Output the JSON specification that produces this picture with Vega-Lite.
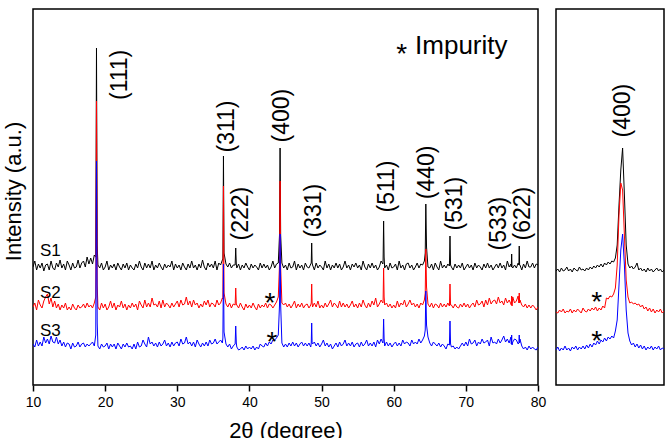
{
"$schema": "https://vega.github.io/schema/vega-lite/v6.json",
"padding": {"left": 1, "top": 8, "right": 4, "bottom": 0},
"background": "white",
"bounds": "flush",
"spacing": 18,
"config": {"font": "Liberation Sans", "view": {"stroke": "black", "strokeWidth": 1.5}},
"datasets": {
"main": [
{"x":10,"S1":118,"S2":78,"S3":41},{"x":10.25,"S1":124,"S2":82,"S3":38},{"x":10.5,"S1":115,"S2":75,"S3":45},{"x":10.75,"S1":121,"S2":85,"S3":39},
{"x":11,"S1":117,"S2":80,"S3":43},{"x":11.25,"S1":122,"S2":77,"S3":39},{"x":11.5,"S1":114,"S2":84,"S3":48},{"x":11.75,"S1":120,"S2":88,"S3":42},
{"x":12,"S1":121,"S2":91,"S3":46},{"x":12.25,"S1":115,"S2":81,"S3":41},{"x":12.5,"S1":124,"S2":87,"S3":49},{"x":12.75,"S1":117,"S2":78,"S3":43},
{"x":13,"S1":115,"S2":84,"S3":42},{"x":13.25,"S1":122,"S2":77,"S3":48},{"x":13.5,"S1":118,"S2":81,"S3":41},{"x":13.75,"S1":125,"S2":75,"S3":45},
{"x":14,"S1":117,"S2":80,"S3":39},{"x":14.25,"S1":121,"S2":77,"S3":43},{"x":14.5,"S1":115,"S2":82,"S3":38},{"x":14.75,"S1":124,"S2":75,"S3":42},
{"x":15,"S1":120,"S2":78,"S3":41},{"x":15.25,"S1":115,"S2":75,"S3":36},{"x":15.5,"S1":122,"S2":81,"S3":42},{"x":15.75,"S1":117,"S2":77,"S3":38},
{"x":16,"S1":118,"S2":75,"S3":39},{"x":16.25,"S1":125,"S2":80,"S3":43},{"x":16.5,"S1":117,"S2":77,"S3":38},{"x":16.75,"S1":122,"S2":78,"S3":41},
{"x":17,"S1":124,"S2":81,"S3":42},{"x":17.25,"S1":118,"S2":77,"S3":38},{"x":17.5,"S1":128,"S2":82,"S3":41},{"x":17.75,"S1":121,"S2":78,"S3":39},
{"x":18,"S1":127,"S2":80,"S3":41},{"x":18.25,"S1":121,"S2":77,"S3":43},{"x":18.5,"S1":130,"S2":82,"S3":39},
{"x":18.7,"S1":128,"S2":88,"S3":50},{"x":18.8,"S1":337,"S2":284,"S3":224},{"x":18.9,"S1":140,"S2":100,"S3":62},
{"x":19,"S1":120,"S2":78,"S3":39},{"x":19.25,"S1":117,"S2":75,"S3":36},{"x":19.5,"S1":122,"S2":82,"S3":41},{"x":19.75,"S1":115,"S2":77,"S3":38},
{"x":20,"S1":118,"S2":81,"S3":39},{"x":20.25,"S1":124,"S2":75,"S3":42},{"x":20.5,"S1":115,"S2":78,"S3":36},{"x":20.75,"S1":120,"S2":84,"S3":41},
{"x":21,"S1":117,"S2":77,"S3":38},{"x":21.25,"S1":121,"S2":82,"S3":41},{"x":21.5,"S1":115,"S2":75,"S3":36},{"x":21.75,"S1":122,"S2":80,"S3":42},
{"x":22,"S1":118,"S2":78,"S3":39},{"x":22.25,"S1":115,"S2":84,"S3":36},{"x":22.5,"S1":121,"S2":77,"S3":41},{"x":22.75,"S1":117,"S2":81,"S3":38},
{"x":23,"S1":122,"S2":75,"S3":42},{"x":23.25,"S1":115,"S2":80,"S3":38},{"x":23.5,"S1":120,"S2":77,"S3":39},{"x":23.75,"S1":117,"S2":82,"S3":36},
{"x":24,"S1":115,"S2":78,"S3":41},{"x":24.25,"S1":121,"S2":81,"S3":36},{"x":24.5,"S1":117,"S2":75,"S3":43},{"x":24.75,"S1":124,"S2":84,"S3":38},
{"x":25,"S1":118,"S2":80,"S3":39},{"x":25.25,"S1":115,"S2":77,"S3":45},{"x":25.5,"S1":122,"S2":85,"S3":41},{"x":25.75,"S1":117,"S2":78,"S3":38},
{"x":26,"S1":121,"S2":82,"S3":48},{"x":26.25,"S1":117,"S2":78,"S3":41},{"x":26.5,"S1":124,"S2":87,"S3":43},{"x":26.75,"S1":115,"S2":80,"S3":39},
{"x":27,"S1":120,"S2":81,"S3":42},{"x":27.25,"S1":117,"S2":78,"S3":38},{"x":27.5,"S1":122,"S2":84,"S3":43},{"x":27.75,"S1":118,"S2":77,"S3":39},
{"x":28,"S1":115,"S2":85,"S3":41},{"x":28.25,"S1":121,"S2":78,"S3":45},{"x":28.5,"S1":117,"S2":82,"S3":39},{"x":28.75,"S1":120,"S2":80,"S3":42},
{"x":29,"S1":118,"S2":77,"S3":38},{"x":29.25,"S1":124,"S2":82,"S3":43},{"x":29.5,"S1":115,"S2":78,"S3":39},{"x":29.75,"S1":121,"S2":81,"S3":42},
{"x":30,"S1":117,"S2":84,"S3":43},{"x":30.25,"S1":120,"S2":78,"S3":39},{"x":30.5,"S1":115,"S2":85,"S3":46},{"x":30.75,"S1":122,"S2":80,"S3":41},
{"x":31,"S1":118,"S2":81,"S3":42},{"x":31.25,"S1":115,"S2":88,"S3":48},{"x":31.5,"S1":121,"S2":80,"S3":41},{"x":31.75,"S1":117,"S2":84,"S3":43},
{"x":32,"S1":124,"S2":78,"S3":39},{"x":32.25,"S1":117,"S2":85,"S3":43},{"x":32.5,"S1":120,"S2":80,"S3":38},{"x":32.75,"S1":115,"S2":82,"S3":45},
{"x":33,"S1":121,"S2":77,"S3":41},{"x":33.25,"S1":117,"S2":81,"S3":38},{"x":33.5,"S1":125,"S2":78,"S3":42},{"x":33.75,"S1":118,"S2":84,"S3":39},
{"x":34,"S1":115,"S2":80,"S3":43},{"x":34.25,"S1":122,"S2":85,"S3":39},{"x":34.5,"S1":118,"S2":78,"S3":45},{"x":34.75,"S1":121,"S2":82,"S3":41},
{"x":35,"S1":117,"S2":81,"S3":42},{"x":35.25,"S1":124,"S2":78,"S3":46},{"x":35.5,"S1":115,"S2":85,"S3":41},{"x":35.75,"S1":122,"S2":80,"S3":43},
{"x":36,"S1":120,"S2":82,"S3":45},{"x":36.25,"S1":125,"S2":87,"S3":42},
{"x":36.32,"S1":126,"S2":86,"S3":47},{"x":36.4,"S1":229,"S2":199,"S3":121},{"x":36.48,"S1":132,"S2":92,"S3":53},
{"x":36.75,"S1":121,"S2":81,"S3":41},
{"x":37,"S1":118,"S2":78,"S3":38},{"x":37.25,"S1":122,"S2":82,"S3":41},{"x":37.5,"S1":117,"S2":77,"S3":36},{"x":37.75,"S1":120,"S2":81,"S3":39},
{"x":38.02,"S1":120,"S2":80,"S3":41},{"x":38.1,"S1":137,"S2":97,"S3":59},{"x":38.18,"S1":121,"S2":81,"S3":42},
{"x":38.25,"S1":117,"S2":80,"S3":38},{"x":38.5,"S1":121,"S2":77,"S3":35},{"x":38.75,"S1":115,"S2":82,"S3":36},
{"x":39,"S1":120,"S2":78,"S3":38},{"x":39.25,"S1":117,"S2":75,"S3":35},{"x":39.5,"S1":122,"S2":81,"S3":39},{"x":39.75,"S1":118,"S2":77,"S3":36},
{"x":40,"S1":115,"S2":80,"S3":38},{"x":40.25,"S1":121,"S2":77,"S3":36},{"x":40.5,"S1":117,"S2":82,"S3":39},{"x":40.75,"S1":120,"S2":78,"S3":35},
{"x":41,"S1":118,"S2":75,"S3":38},{"x":41.25,"S1":115,"S2":81,"S3":36},{"x":41.5,"S1":122,"S2":77,"S3":41},{"x":41.75,"S1":117,"S2":80,"S3":39},
{"x":42,"S1":121,"S2":78,"S3":38},{"x":42.25,"S1":117,"S2":82,"S3":42},{"x":42.5,"S1":120,"S2":77,"S3":39},{"x":42.75,"S1":115,"S2":81,"S3":43},
{"x":43,"S1":118,"S2":80,"S3":41},{"x":43.25,"S1":124,"S2":77,"S3":45},{"x":43.5,"S1":117,"S2":80,"S3":45},{"x":43.75,"S1":121,"S2":83,"S3":47},
{"x":44,"S1":122,"S2":88,"S3":50},{"x":44.17,"S1":150,"S2":120,"S3":80},{"x":44.25,"S1":237,"S2":204,"S3":151},{"x":44.33,"S1":150,"S2":118,"S3":80},
{"x":44.5,"S1":122,"S2":82,"S3":42},{"x":44.75,"S1":117,"S2":80,"S3":38},
{"x":45,"S1":120,"S2":82,"S3":41},{"x":45.25,"S1":115,"S2":78,"S3":38},{"x":45.5,"S1":122,"S2":81,"S3":42},{"x":45.75,"S1":117,"S2":77,"S3":39},
{"x":46,"S1":118,"S2":80,"S3":43},{"x":46.25,"S1":124,"S2":84,"S3":39},{"x":46.5,"S1":115,"S2":77,"S3":42},{"x":46.75,"S1":121,"S2":81,"S3":38},
{"x":47,"S1":117,"S2":78,"S3":41},{"x":47.25,"S1":120,"S2":82,"S3":43},{"x":47.5,"S1":115,"S2":77,"S3":39},{"x":47.75,"S1":122,"S2":80,"S3":42},
{"x":48,"S1":118,"S2":81,"S3":39},{"x":48.25,"S1":117,"S2":77,"S3":42},{"x":48.5,"S1":121,"S2":80,"S3":38},
{"x":48.57,"S1":122,"S2":82,"S3":42},{"x":48.63,"S1":142,"S2":101,"S3":62},{"x":48.69,"S1":122,"S2":82,"S3":42},
{"x":48.75,"S1":120,"S2":78,"S3":41},
{"x":49,"S1":115,"S2":82,"S3":43},{"x":49.25,"S1":122,"S2":78,"S3":39},{"x":49.5,"S1":117,"S2":84,"S3":42},{"x":49.75,"S1":120,"S2":77,"S3":38},
{"x":50,"S1":118,"S2":80,"S3":41},{"x":50.25,"S1":115,"S2":77,"S3":45},{"x":50.5,"S1":124,"S2":82,"S3":39},{"x":50.75,"S1":117,"S2":78,"S3":42},
{"x":51,"S1":121,"S2":81,"S3":38},{"x":51.25,"S1":115,"S2":85,"S3":41},{"x":51.5,"S1":120,"S2":78,"S3":36},{"x":51.75,"S1":117,"S2":82,"S3":39},
{"x":52,"S1":122,"S2":80,"S3":42},{"x":52.25,"S1":117,"S2":77,"S3":38},{"x":52.5,"S1":121,"S2":84,"S3":43},{"x":52.75,"S1":115,"S2":78,"S3":39},
{"x":53,"S1":118,"S2":82,"S3":41},{"x":53.25,"S1":124,"S2":78,"S3":45},{"x":53.5,"S1":117,"S2":81,"S3":39},{"x":53.75,"S1":120,"S2":77,"S3":42},
{"x":54,"S1":115,"S2":80,"S3":39},{"x":54.25,"S1":121,"S2":84,"S3":43},{"x":54.5,"S1":118,"S2":78,"S3":38},{"x":54.75,"S1":122,"S2":81,"S3":41},
{"x":55,"S1":117,"S2":77,"S3":42},{"x":55.25,"S1":120,"S2":82,"S3":38},{"x":55.5,"S1":115,"S2":78,"S3":43},{"x":55.75,"S1":124,"S2":85,"S3":39},
{"x":56,"S1":118,"S2":80,"S3":41},{"x":56.25,"S1":115,"S2":77,"S3":45},{"x":56.5,"S1":121,"S2":82,"S3":39},{"x":56.75,"S1":117,"S2":78,"S3":42},
{"x":57,"S1":122,"S2":84,"S3":39},{"x":57.25,"S1":117,"S2":80,"S3":43},{"x":57.5,"S1":120,"S2":87,"S3":38},{"x":57.75,"S1":115,"S2":78,"S3":45},
{"x":58,"S1":118,"S2":81,"S3":41},{"x":58.25,"S1":124,"S2":85,"S3":46},{"x":58.5,"S1":121,"S2":82,"S3":42},
{"x":58.53,"S1":125,"S2":84,"S3":44},{"x":58.6,"S1":164,"S2":117,"S3":66},{"x":58.67,"S1":128,"S2":88,"S3":46},
{"x":58.75,"S1":117,"S2":80,"S3":39},
{"x":59,"S1":120,"S2":82,"S3":43},{"x":59.25,"S1":115,"S2":78,"S3":39},{"x":59.5,"S1":122,"S2":81,"S3":42},{"x":59.75,"S1":117,"S2":77,"S3":38},
{"x":60,"S1":118,"S2":80,"S3":41},{"x":60.25,"S1":121,"S2":77,"S3":43},{"x":60.5,"S1":115,"S2":84,"S3":39},{"x":60.75,"S1":124,"S2":78,"S3":42},
{"x":61,"S1":117,"S2":82,"S3":39},{"x":61.25,"S1":120,"S2":80,"S3":45},{"x":61.5,"S1":115,"S2":85,"S3":41},{"x":61.75,"S1":121,"S2":78,"S3":43},
{"x":62,"S1":122,"S2":81,"S3":42},{"x":62.25,"S1":117,"S2":85,"S3":39},{"x":62.5,"S1":120,"S2":80,"S3":45},{"x":62.75,"S1":115,"S2":82,"S3":41},
{"x":63,"S1":118,"S2":78,"S3":43},{"x":63.25,"S1":122,"S2":81,"S3":41},{"x":63.5,"S1":117,"S2":77,"S3":46},{"x":63.75,"S1":121,"S2":82,"S3":42},
{"x":64,"S1":120,"S2":80,"S3":45},{"x":64.25,"S1":124,"S2":85,"S3":49},
{"x":64.37,"S1":132,"S2":92,"S3":55},{"x":64.45,"S1":181,"S2":136,"S3":94},{"x":64.55,"S1":138,"S2":98,"S3":60},
{"x":64.75,"S1":118,"S2":81,"S3":48},
{"x":65,"S1":117,"S2":78,"S3":42},{"x":65.25,"S1":121,"S2":82,"S3":39},{"x":65.5,"S1":115,"S2":77,"S3":43},{"x":65.75,"S1":122,"S2":81,"S3":41},
{"x":66,"S1":118,"S2":80,"S3":39},{"x":66.25,"S1":115,"S2":77,"S3":42},{"x":66.5,"S1":124,"S2":82,"S3":38},{"x":66.75,"S1":117,"S2":78,"S3":41},
{"x":67,"S1":120,"S2":81,"S3":39},{"x":67.25,"S1":117,"S2":78,"S3":36},{"x":67.5,"S1":121,"S2":82,"S3":41},
{"x":67.72,"S1":119,"S2":79,"S3":40},{"x":67.8,"S1":149,"S2":101,"S3":64},{"x":67.88,"S1":120,"S2":80,"S3":41},
{"x":68,"S1":118,"S2":80,"S3":38},{"x":68.25,"S1":115,"S2":77,"S3":39},{"x":68.5,"S1":121,"S2":81,"S3":36},{"x":68.75,"S1":117,"S2":78,"S3":38},
{"x":69,"S1":120,"S2":77,"S3":36},{"x":69.25,"S1":117,"S2":81,"S3":39},{"x":69.5,"S1":122,"S2":78,"S3":42},{"x":69.75,"S1":115,"S2":82,"S3":39},
{"x":70,"S1":118,"S2":78,"S3":43},{"x":70.25,"S1":121,"S2":81,"S3":39},{"x":70.5,"S1":117,"S2":77,"S3":46},{"x":70.75,"S1":120,"S2":80,"S3":41},
{"x":71,"S1":115,"S2":82,"S3":42},{"x":71.25,"S1":122,"S2":78,"S3":45},{"x":71.5,"S1":117,"S2":85,"S3":39},{"x":71.75,"S1":120,"S2":80,"S3":43},
{"x":72,"S1":118,"S2":81,"S3":41},{"x":72.25,"S1":115,"S2":84,"S3":46},{"x":72.5,"S1":121,"S2":78,"S3":42},{"x":72.75,"S1":117,"S2":85,"S3":43},
{"x":73,"S1":122,"S2":80,"S3":45},{"x":73.25,"S1":117,"S2":87,"S3":39},{"x":73.5,"S1":120,"S2":81,"S3":48},{"x":73.75,"S1":115,"S2":84,"S3":42},
{"x":74,"S1":118,"S2":85,"S3":43},{"x":74.25,"S1":121,"S2":81,"S3":41},{"x":74.5,"S1":117,"S2":88,"S3":46},{"x":74.75,"S1":122,"S2":82,"S3":42},
{"x":75,"S1":117,"S2":84,"S3":45},{"x":75.25,"S1":120,"S2":80,"S3":49},{"x":75.5,"S1":115,"S2":87,"S3":43},{"x":75.75,"S1":124,"S2":82,"S3":46},
{"x":76,"S1":118,"S2":85,"S3":42},{"x":76.25,"S1":121,"S2":81,"S3":48},
{"x":76.3,"S1":118,"S2":80,"S3":41},{"x":76.35,"S1":131,"S2":89,"S3":50},{"x":76.4,"S1":118,"S2":79,"S3":40},
{"x":76.5,"S1":117,"S2":88,"S3":43},{"x":76.75,"S1":120,"S2":82,"S3":46},
{"x":77,"S1":117,"S2":84,"S3":45},{"x":77.25,"S1":122,"S2":89,"S3":41},
{"x":77.35,"S1":120,"S2":82,"S3":42},{"x":77.4,"S1":139,"S2":92,"S3":50},{"x":77.45,"S1":120,"S2":82,"S3":42},
{"x":77.5,"S1":120,"S2":85,"S3":46},{"x":77.75,"S1":115,"S2":80,"S3":39},
{"x":78,"S1":121,"S2":78,"S3":36},{"x":78.25,"S1":117,"S2":81,"S3":38},{"x":78.5,"S1":124,"S2":77,"S3":35},{"x":78.75,"S1":118,"S2":80,"S3":39},
{"x":79,"S1":118,"S2":77,"S3":36},{"x":79.25,"S1":122,"S2":80,"S3":38},{"x":79.5,"S1":117,"S2":78,"S3":36},{"x":79.75,"S1":121,"S2":75,"S3":35},
{"x":80,"S1":120,"S2":78,"S3":38}
],
"zoom": [
{"x":42.45,"S1":114,"S2":73,"S3":35},{"x":42.5,"S1":116,"S2":72,"S3":38},{"x":42.55,"S1":113,"S2":75,"S3":34},{"x":42.6,"S1":117,"S2":73,"S3":37},
{"x":42.65,"S1":114,"S2":76,"S3":35},{"x":42.7,"S1":115,"S2":72,"S3":39},{"x":42.75,"S1":118,"S2":74,"S3":35},{"x":42.8,"S1":114,"S2":73,"S3":37},
{"x":42.85,"S1":116,"S2":76,"S3":34},{"x":42.9,"S1":113,"S2":72,"S3":38},{"x":42.95,"S1":117,"S2":75,"S3":36},{"x":43,"S1":115,"S2":73,"S3":39},
{"x":43.05,"S1":114,"S2":76,"S3":35},{"x":43.1,"S1":118,"S2":74,"S3":38},{"x":43.15,"S1":115,"S2":72,"S3":36},{"x":43.2,"S1":116,"S2":77,"S3":39},
{"x":43.25,"S1":114,"S2":74,"S3":36},{"x":43.3,"S1":117,"S2":73,"S3":40},{"x":43.35,"S1":115,"S2":76,"S3":37},{"x":43.4,"S1":118,"S2":74,"S3":41},
{"x":43.45,"S1":116,"S2":77,"S3":38},{"x":43.5,"S1":119,"S2":75,"S3":42},{"x":43.55,"S1":117,"S2":78,"S3":40},{"x":43.6,"S1":120,"S2":74,"S3":44},
{"x":43.65,"S1":118,"S2":77,"S3":41},{"x":43.7,"S1":121,"S2":75,"S3":45},{"x":43.75,"S1":118,"S2":79,"S3":43},{"x":43.8,"S1":122,"S2":77,"S3":47},
{"x":43.85,"S1":120,"S2":87,"S3":44},{"x":43.9,"S1":123,"S2":86,"S3":48},{"x":43.95,"S1":121,"S2":89,"S3":46},{"x":44,"S1":124,"S2":88,"S3":49},
{"x":44.05,"S1":123,"S2":91,"S3":47},{"x":44.1,"S1":127,"S2":97,"S3":54},{"x":44.15,"S1":140,"S2":120,"S3":65},{"x":44.2,"S1":180,"S2":170,"S3":100},
{"x":44.25,"S1":215,"S2":202,"S3":135},{"x":44.3,"S1":237,"S2":195,"S3":151},{"x":44.35,"S1":190,"S2":150,"S3":120},{"x":44.4,"S1":140,"S2":105,"S3":75},
{"x":44.45,"S1":121,"S2":88,"S3":52},{"x":44.5,"S1":117,"S2":82,"S3":44},{"x":44.55,"S1":119,"S2":83,"S3":40},{"x":44.6,"S1":116,"S2":81,"S3":42},
{"x":44.65,"S1":118,"S2":82,"S3":38},{"x":44.7,"S1":122,"S2":80,"S3":41},{"x":44.75,"S1":115,"S2":81,"S3":37},{"x":44.8,"S1":117,"S2":78,"S3":40},
{"x":44.85,"S1":114,"S2":80,"S3":36},{"x":44.9,"S1":116,"S2":76,"S3":39},{"x":44.95,"S1":113,"S2":78,"S3":35},{"x":45,"S1":117,"S2":74,"S3":38},
{"x":45.05,"S1":114,"S2":77,"S3":36},{"x":45.1,"S1":116,"S2":73,"S3":39},{"x":45.15,"S1":113,"S2":76,"S3":35},{"x":45.2,"S1":115,"S2":72,"S3":38},
{"x":45.25,"S1":117,"S2":75,"S3":36},{"x":45.3,"S1":114,"S2":73,"S3":39},{"x":45.35,"S1":116,"S2":76,"S3":35},{"x":45.4,"S1":113,"S2":72,"S3":37},
{"x":45.45,"S1":115,"S2":74,"S3":36}
],
"hkl": [
{"x":22.0,"y":285,"t":"(111)"},{"x":36.85,"y":232.5,"t":"(311)"},{"x":38.8,"y":144.5,"t":"(222)"},{"x":44.58,"y":242.5,"t":"(400)"},
{"x":48.95,"y":147.5,"t":"(331)"},{"x":59.03,"y":172.5,"t":"(511)"},{"x":64.57,"y":185.8,"t":"(440)"},{"x":68.5,"y":154.5,"t":"(531)"},
{"x":74.6,"y":134.5,"t":"(533)"},{"x":77.9,"y":144.5,"t":"(622)"}
],
"samples": [{"x":10.97,"y":129,"t":"S1"},{"x":10.97,"y":87,"t":"S2"},{"x":10.97,"y":49,"t":"S3"}],
"stars": [{"x":42.85,"y":73.5,"t":"*"},{"x":43.13,"y":34.5,"t":"*"},{"x":61.11,"y":322,"t":"*"}],
"legend": [{"x":62.96,"y":330.7,"t":"Impurity"}],
"zoomlabels": [{"x":44.32,"y":247.5,"t":"(400)"}],
"zoomstars": [{"x":43.58,"y":74.5,"t":"*"},{"x":43.58,"y":35,"t":"*"}]
},
"hconcat": [
{
"width": 505, "height": 376,
"layer": [
{"data": {"name": "main"}, "mark": {"type": "line", "color": "black", "strokeWidth": 1, "clip": true},
 "encoding": {
  "x": {"field": "x", "type": "quantitative", "scale": {"domain": [10, 80], "nice": false, "zero": false},
        "axis": {"values": [10,20,30,40,50,60,70,80], "tickSize": 6, "tickWidth": 1.5, "tickColor": "black", "domain": false, "grid": false,
                 "labelFontSize": 14, "labelColor": "black", "labelPadding": 4, "labelFlush": false,
                 "title": "2θ (degree)", "titleFontSize": 22, "titleFontWeight": "normal", "titleColor": "black", "titlePadding": 11}},
  "y": {"field": "S1", "type": "quantitative", "scale": {"domain": [0, 376], "nice": false, "zero": false},
        "axis": {"labels": false, "ticks": false, "domain": false, "grid": false, "title": "Intensity (a.u.)", "titleFontSize": 22,
                 "titleFontWeight": "normal", "titleColor": "black", "titlePadding": 8, "titleY": 182}}
 }},
{"data": {"name": "main"}, "mark": {"type": "line", "color": "#ff0000", "strokeWidth": 1, "clip": true},
 "encoding": {"x": {"field": "x", "type": "quantitative"}, "y": {"field": "S2", "type": "quantitative"}}},
{"data": {"name": "main"}, "mark": {"type": "line", "color": "#0000ff", "strokeWidth": 1, "clip": true},
 "encoding": {"x": {"field": "x", "type": "quantitative"}, "y": {"field": "S3", "type": "quantitative"}}},
{"data": {"name": "hkl"}, "mark": {"type": "text", "angle": 270, "align": "left", "baseline": "middle", "fontSize": 23, "color": "black"},
 "encoding": {"x": {"field": "x", "type": "quantitative"}, "y": {"field": "y", "type": "quantitative"}, "text": {"field": "t"}}},
{"data": {"name": "samples"}, "mark": {"type": "text", "align": "left", "baseline": "alphabetic", "fontSize": 17, "color": "black"},
 "encoding": {"x": {"field": "x", "type": "quantitative"}, "y": {"field": "y", "type": "quantitative"}, "text": {"field": "t"}}},
{"data": {"name": "stars"}, "mark": {"type": "text", "align": "center", "baseline": "alphabetic", "fontSize": 28, "color": "black"},
 "encoding": {"x": {"field": "x", "type": "quantitative"}, "y": {"field": "y", "type": "quantitative"}, "text": {"field": "t"}}},
{"data": {"name": "legend"}, "mark": {"type": "text", "align": "left", "baseline": "alphabetic", "fontSize": 26, "color": "black"},
 "encoding": {"x": {"field": "x", "type": "quantitative"}, "y": {"field": "y", "type": "quantitative"}, "text": {"field": "t"}}}
]
},
{
"width": 108, "height": 376,
"layer": [
{"data": {"name": "zoom"}, "mark": {"type": "line", "color": "black", "strokeWidth": 1, "clip": true},
 "encoding": {
  "x": {"field": "x", "type": "quantitative", "scale": {"domain": [42.45, 45.45], "nice": false, "zero": false}, "axis": null},
  "y": {"field": "S1", "type": "quantitative", "scale": {"domain": [0, 376], "nice": false, "zero": false}, "axis": null}
 }},
{"data": {"name": "zoom"}, "mark": {"type": "line", "color": "#ff0000", "strokeWidth": 1, "clip": true},
 "encoding": {"x": {"field": "x", "type": "quantitative"}, "y": {"field": "S2", "type": "quantitative"}}},
{"data": {"name": "zoom"}, "mark": {"type": "line", "color": "#0000ff", "strokeWidth": 1, "clip": true},
 "encoding": {"x": {"field": "x", "type": "quantitative"}, "y": {"field": "S3", "type": "quantitative"}}},
{"data": {"name": "zoomlabels"}, "mark": {"type": "text", "angle": 270, "align": "left", "baseline": "middle", "fontSize": 23, "color": "black"},
 "encoding": {"x": {"field": "x", "type": "quantitative"}, "y": {"field": "y", "type": "quantitative"}, "text": {"field": "t"}}},
{"data": {"name": "zoomstars"}, "mark": {"type": "text", "align": "center", "baseline": "alphabetic", "fontSize": 28, "color": "black"},
 "encoding": {"x": {"field": "x", "type": "quantitative"}, "y": {"field": "y", "type": "quantitative"}, "text": {"field": "t"}}}
]
}
]
}
